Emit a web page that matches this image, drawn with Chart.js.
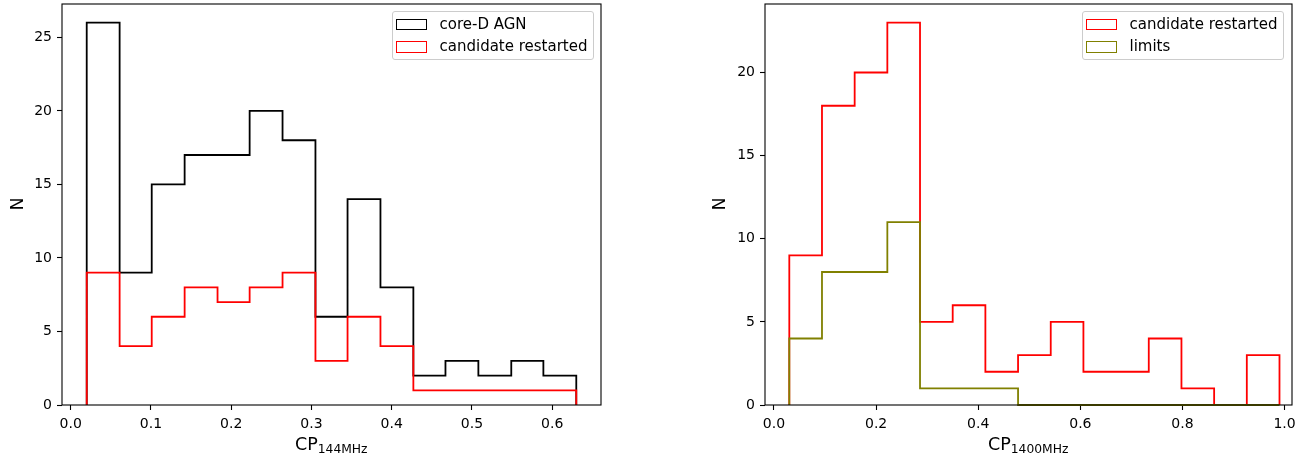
<!DOCTYPE html>
<html><head><meta charset="utf-8">
<script src="https://cdn.jsdelivr.net/npm/chart.js@4/dist/chart.umd.min.js"></script>
<style>
html,body{margin:0;padding:0;background:#fff;}
body{width:1311px;height:459px;position:relative;overflow:hidden;font-family:"DejaVu Sans",sans-serif;color:#000;}
canvas{position:absolute;top:0;}
.lbl{position:absolute;font-size:17.5px;line-height:normal;white-space:nowrap;}
.lbl sub{font-size:12.3px;vertical-align:baseline;position:relative;top:3px;}
.ylbl{position:absolute;font-size:17.5px;line-height:normal;white-space:nowrap;transform:translate(-50%,-50%) rotate(-90deg);}
.legend{position:absolute;background:rgba(255,255,255,0.8);border:1px solid #cccccc;border-radius:3px;box-sizing:border-box;}
.hbox{position:absolute;box-sizing:border-box;border-style:solid;border-width:1.8px;background:transparent;}
.ltext{position:absolute;font-size:15px;line-height:normal;white-space:nowrap;}
</style>
</head><body>
<canvas id="c1" width="612" height="459" style="left:0px"></canvas>
<canvas id="c2" width="631" height="459" style="left:680px"></canvas>

<script>
// ---------- data ----------
// Left panel: CP at 144 MHz (15 equal bins between 0.02 and 0.63)
const leftEdges = [0.020, 0.061, 0.101, 0.142, 0.183, 0.223, 0.264, 0.305, 0.345, 0.386, 0.427, 0.467, 0.508, 0.549, 0.589, 0.630];
const coreDCounts = [26, 9, 15, 17, 17, 20, 18, 6, 14, 8, 2, 3, 2, 3, 2];
const restartedCounts144 = [9, 4, 6, 8, 7, 8, 9, 3, 6, 4, 1, 1, 1, 1, 1];
const leftXTicks = [0.0, 0.1, 0.2, 0.3, 0.4, 0.5, 0.6];
const leftXTickLabels = ['0.0', '0.1', '0.2', '0.3', '0.4', '0.5', '0.6'];
const leftYTicks = [0, 5, 10, 15, 20, 25];
const leftYTickLabels = ['0', '5', '10', '15', '20', '25'];

// Right panel: CP at 1400 MHz (15 equal bins between 0.03 and 0.99)
const rightEdges = [0.030, 0.094, 0.158, 0.222, 0.286, 0.350, 0.414, 0.478, 0.542, 0.606, 0.670, 0.734, 0.798, 0.862, 0.926, 0.990];
const restartedCounts1400 = [9, 18, 20, 23, 5, 6, 2, 3, 5, 2, 2, 4, 1, 0, 3];
const limitsCounts = [4, 8, 8, 11, 1, 1, 1, 0, 0, 0, 0, 0, 0, 0, 0];
const rightXTicks = [0.0, 0.2, 0.4, 0.6, 0.8, 1.0];
const rightXTickLabels = ['0.0', '0.2', '0.4', '0.6', '0.8', '1.0'];
const rightYTicks = [0, 5, 10, 15, 20];
const rightYTickLabels = ['0', '5', '10', '15', '20'];

const leftLegendLabels = ['core-D AGN', 'candidate restarted'];
const leftLegendColors = ['#000000', '#ff0000'];
const rightLegendLabels = ['candidate restarted', 'limits'];
const rightLegendColors = ['#ff0000', '#808000'];

// ---------- helpers ----------
function histPoints(edges, counts) {
  const pts = [{x: edges[0], y: 0}];
  counts.forEach((c, i) => pts.push({x: edges[i], y: c}));
  pts.push({x: edges[edges.length - 1], y: counts[counts.length - 1]});
  pts.push({x: edges[edges.length - 1], y: 0});
  return pts;
}
function ds(label, edges, counts, color, order) {
  return {
    label, data: histPoints(edges, counts), borderColor: color, backgroundColor: color,
    borderWidth: 1.8, stepped: true, pointRadius: 0, pointHoverRadius: 0, fill: false,
    tension: 0, clip: false, order, borderJoinStyle: 'miter', borderCapStyle: 'butt'
  };
}
const frame = {
  id: 'frame',
  afterDatasetsDraw(chart) {
    const a = chart.chartArea, ctx = chart.ctx;
    ctx.save();
    ctx.strokeStyle = '#000';
    ctx.lineWidth = 1.1;
    ctx.strokeRect(Math.round(a.left), Math.round(a.top), Math.round(a.right) - Math.round(a.left), Math.round(a.bottom) - Math.round(a.top));
    ctx.restore();
  }
};
Chart.defaults.font.family = '"DejaVu Sans", sans-serif';
Chart.defaults.color = '#000';

function zeroPad(s) { s.paddingTop = 0; s.paddingBottom = 0; s.paddingLeft = 0; s.paddingRight = 0; }

function makeChart(id, datasets, xr, yr, xt, xtl, yt, ytl, yw, padRight) {
  return new Chart(document.getElementById(id), {
    type: 'line',
    data: {datasets},
    plugins: [frame],
    options: {
      responsive: false, animation: false, devicePixelRatio: 1,
      layout: {padding: {top: 3.5, right: padRight, left: 0, bottom: 0}},
      plugins: {legend: {display: false}, tooltip: {enabled: false}},
      events: [],
      scales: {
        x: {
          type: 'linear', min: xr[0], max: xr[1],
          afterBuildTicks: s => { s.ticks = xt.map(v => ({value: v})); },
          afterFit: s => { s.height = 54; zeroPad(s); },
          ticks: {callback: (v, i) => xtl[i], font: {size: 14}, padding: 6, maxRotation: 0, autoSkip: false},
          grid: {display: true, drawOnChartArea: false, drawTicks: true, tickLength: 5, tickWidth: 1.1, tickColor: '#000'},
          border: {display: false}
        },
        y: {
          type: 'linear', min: yr[0], max: yr[1],
          afterBuildTicks: s => { s.ticks = yt.map(v => ({value: v})); },
          afterFit: s => { s.width = yw; zeroPad(s); },
          ticks: {callback: (v, i) => ytl[i], font: {size: 14}, padding: 5, autoSkip: false},
          grid: {display: true, drawOnChartArea: false, drawTicks: true, tickLength: 5, tickWidth: 1.1, tickColor: '#000'},
          border: {display: false}
        }
      }
    }
  });
}

makeChart('c1', [
  ds('core-D AGN', leftEdges, coreDCounts, '#000000', 1),
  ds('candidate restarted', leftEdges, restartedCounts144, '#ff0000', 0)
], [-0.0108, 0.6608], [0, 27.3], leftXTicks, leftXTickLabels, leftYTicks, leftYTickLabels, 62, 11);

makeChart('c2', [
  ds('candidate restarted', rightEdges, restartedCounts1400, '#ff0000', 1),
  ds('limits', rightEdges, limitsCounts, '#808000', 0)
], [-0.0176, 1.0145], [0, 24.15], rightXTicks, rightXTickLabels, rightYTicks, rightYTickLabels, 85, 19);

// ---------- HTML text: axis titles and legends ----------
function addDiv(cls, html, style) {
  const d = document.createElement('div');
  d.className = cls; d.innerHTML = html;
  Object.assign(d.style, style);
  document.body.appendChild(d);
  return d;
}
function placeXLabel(html, centerX) {
  const d = addDiv('lbl', html, {top: '433.8px', left: '0px'});
  d.style.left = (centerX - d.offsetWidth / 2) + 'px';
}
placeXLabel('CP<sub>144MHz</sub>', 331.5);
placeXLabel('CP<sub>1400MHz</sub>', 1028);
addDiv('ylbl', 'N', {left: '17px', top: '204px'});
addDiv('ylbl', 'N', {left: '718.5px', top: '204px'});

function legend(left, labels, colors) {
  const lg = addDiv('legend', '', {left: left + 'px', top: '11px', width: '202px', height: '49px'});
  labels.forEach((t, i) => {
    const b = document.createElement('div');
    b.className = 'hbox';
    Object.assign(b.style, {left: '3px', top: (6.7 + i * 22.3) + 'px', width: '31px', height: '11.5px', borderColor: colors[i]});
    lg.appendChild(b);
    const s = document.createElement('div');
    s.className = 'ltext'; s.textContent = t;
    Object.assign(s.style, {left: '46.5px', top: (3.1 + i * 22.3) + 'px'});
    lg.appendChild(s);
  });
}
legend(392, leftLegendLabels, leftLegendColors);
legend(1082, rightLegendLabels, rightLegendColors);
</script>
</body></html>
